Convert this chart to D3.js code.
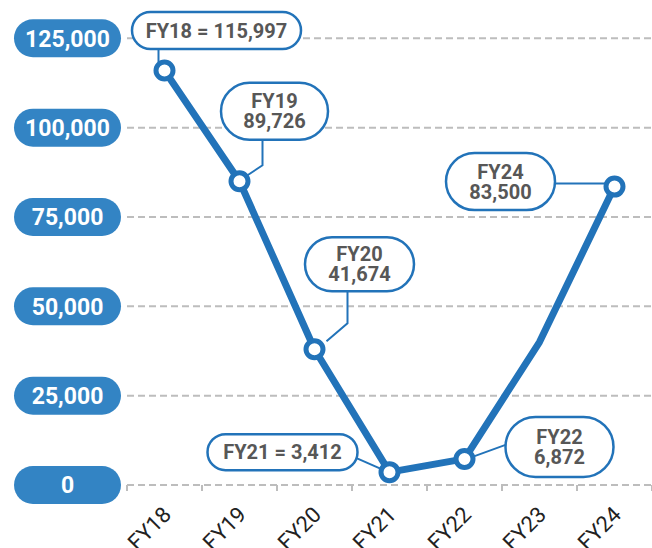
<!DOCTYPE html>
<html>
<head>
<meta charset="utf-8">
<script src="https://cdn.jsdelivr.net/npm/d3@7"></script>
<style>
  body { margin: 0; background: #fff; }
  svg { display: block; font-family: Roboto, "Noto Sans", sans-serif; }
</style>
</head>
<body>
<svg id="chart" width="652" height="548"></svg>
<script>
// data
const years = ['FY18', 'FY19', 'FY20', 'FY21', 'FY22', 'FY23', 'FY24']
const values = [116000, 85000, 38000, 3600, 7300, 40000, 83500]
const marked = ['FY18', 'FY19', 'FY20', 'FY21', 'FY22', 'FY24']
const yTicks = [0, 25000, 50000, 75000, 100000, 125000]
const labelLines = {
    FY18: ['FY18 = 115,997'],
    FY19: ['FY19', '89,726'],
    FY20: ['FY20', '41,674'],
    FY21: ['FY21 = 3,412'],
    FY22: ['FY22', '6,872'],
    FY24: ['FY24', '83,500']
}

// callout layout: box centre offset from point, box size, leader waypoints (relative to point)
const callouts = {
    FY18: {dx: 52, dy: -40, w: 169, h: 37, leader: [[-6, -21], [-6, -8]]},
    FY19: {dx: 35, dy: -70, w: 107, h: 57, leader: [[23, -41], [23, -16], [8, -6]]},
    FY20: {dx: 45, dy: -85, w: 109, h: 54, leader: [[33, -58], [33, -26], [12, -8]]},
    FY21: {dx: -107, dy: -20, w: 150, h: 36, leader: [[-33, -14], [-8, -3]]},
    FY22: {dx: 95, dy: -12, w: 108, h: 60, leader: [[41, -14], [8, -2]]},
    FY24: {dx: -114, dy: -5, w: 109, h: 57, leader: [[-60, -3], [-9, -3]]}
}

const blue = '#2273b9'
const pillBlue = '#3384c4'
const grey = '#bdbdbd'
const textGrey = '#575757'

const svg = d3.select('#chart')

const x = d3.scaleBand().domain(years).range([127, 652])
const y = d3.scaleLinear().domain([0, 125000]).range([485, 38.3])
const cx = d => x(d) + x.bandwidth() / 2

// gridlines
svg.append('g').selectAll('line')
    .data(yTicks)
    .join('line')
    .attr('x1', 127).attr('x2', 652)
    .attr('y1', d => y(d)).attr('y2', d => y(d))
    .attr('stroke', grey)
    .attr('stroke-width', 2)
    .attr('stroke-dasharray', '7,4')

// x-axis tick marks at band edges
const edges = years.map(d => x(d)).concat([x.range()[1]])
svg.append('g').selectAll('line')
    .data(edges)
    .join('line')
    .attr('x1', d => d).attr('x2', d => d)
    .attr('y1', y(0)).attr('y2', y(0) + 6)
    .attr('stroke', grey)
    .attr('stroke-width', 2)

// x labels
svg.append('g').selectAll('text')
    .data(years)
    .join('text')
    .attr('transform', d => 'translate(' + (cx(d) + 8) + ',' + 516 + ') rotate(-45)')
    .attr('text-anchor', 'end')
    .attr('font-size', 22)
    .attr('fill', '#222')
    .text(d => d)

// y pill labels
const pills = svg.append('g').selectAll('g')
    .data(yTicks)
    .join('g')
    .attr('transform', d => 'translate(67.5,' + y(d) + ')')
pills.append('rect')
    .attr('x', -53.5).attr('y', -19)
    .attr('width', 107).attr('height', 38)
    .attr('rx', 19)
    .attr('fill', pillBlue)
pills.append('text')
    .attr('text-anchor', 'middle')
    .attr('dy', '0.36em')
    .attr('font-size', 23)
    .attr('font-weight', 700)
    .attr('fill', '#fff')
    .text(d => d3.format(',')(d))

// the line
const pts = years.map((d, i) => ({year: d, value: values[i]}))
svg.append('path')
    .datum(pts)
    .attr('fill', 'none')
    .attr('stroke', blue)
    .attr('stroke-width', 7)
    .attr('stroke-linejoin', 'round')
    .attr('d', d3.line().x(d => cx(d.year)).y(d => y(d.value)))

const markPts = pts.filter(d => marked.includes(d.year))

// leaders
svg.append('g').selectAll('path')
    .data(markPts)
    .join('path')
    .attr('fill', 'none')
    .attr('stroke', blue)
    .attr('stroke-width', 2)
    .attr('d', d => {
        const px = cx(d.year), py = y(d.value)
        return d3.line()(callouts[d.year].leader.map(p => [px + p[0], py + p[1]]))
    })

// markers
svg.append('g').selectAll('circle')
    .data(markPts)
    .join('circle')
    .attr('cx', d => cx(d.year))
    .attr('cy', d => y(d.value))
    .attr('r', 8.5)
    .attr('fill', '#fff')
    .attr('stroke', blue)
    .attr('stroke-width', 5)

// callout boxes
const boxes = svg.append('g').selectAll('g')
    .data(markPts)
    .join('g')
    .attr('transform', d => {
        const c = callouts[d.year]
        return 'translate(' + (cx(d.year) + c.dx) + ',' + (y(d.value) + c.dy) + ')'
    })
boxes.append('rect')
    .attr('x', d => -callouts[d.year].w / 2)
    .attr('y', d => -callouts[d.year].h / 2)
    .attr('width', d => callouts[d.year].w)
    .attr('height', d => callouts[d.year].h)
    .attr('rx', d => callouts[d.year].h / 2)
    .attr('fill', '#fff')
    .attr('stroke', blue)
    .attr('stroke-width', 2.5)
boxes.append('text')
    .attr('text-anchor', 'middle')
    .attr('font-size', 20)
    .attr('font-weight', 700)
    .attr('fill', textGrey)
    .selectAll('tspan')
    .data(d => labelLines[d.year].map((t, i, a) => ({t: t, i: i, n: a.length})))
    .join('tspan')
    .attr('x', 0)
    .attr('y', d => (d.i - (d.n - 1) / 2) * 20)
    .attr('dy', '0.36em')
    .text(d => d.t)
</script>
</body>
</html>
